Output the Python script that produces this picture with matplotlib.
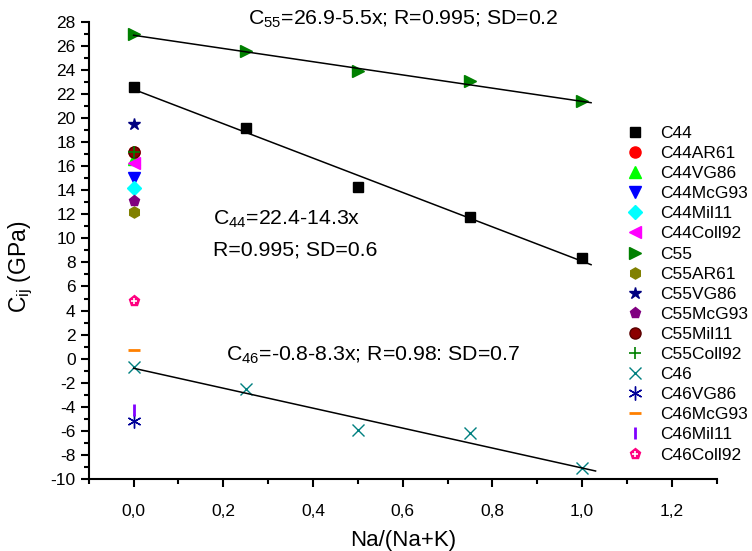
import numpy as np
import matplotlib
matplotlib.use("Agg")
import matplotlib.pyplot as plt
from matplotlib.ticker import MultipleLocator, FuncFormatter
from matplotlib.legend_handler import HandlerTuple

plt.rcParams["font.family"] = ["Liberation Sans", "DejaVu Sans"]
plt.rcParams["mathtext.default"] = "regular"

# composition series
x_series = [0.0, 0.25, 0.5, 0.75, 1.0]
c44 = [22.6, 19.2, 14.3, 11.8, 8.4]
c55 = [27.0, 25.6, 23.9, 23.1, 21.4]
c46 = [-0.7, -2.5, -5.9, -6.2, -9.1]

# literature values at x = 0
lit_names = [
    "C44AR61", "C44VG86", "C44McG93", "C44Mil11", "C44Coll92",
    "C55AR61", "C55VG86", "C55McG93", "C55Mil11", "C55Coll92",
    "C46VG86", "C46McG93", "C46Mil11", "C46Coll92",
]
lit_values = [
    17.2, 16.6, 15.0, 14.2, 16.3,
    12.2, 19.5, 13.1, 17.2, 17.2,
    -5.2, 0.7, -4.3, 4.8,
]

# linear fits: intercept, slope
fit_c55 = (26.9, -5.5)
fit_c44 = (22.4, -14.3)
fit_c46 = (-0.8, -8.3)

styles = {
    "C44": dict(marker="s", color="black", ms=7),
    "C44AR61": dict(marker="o", color="red", ms=8),
    "C44VG86": dict(marker="^", color="#00ff00", ms=8),
    "C44McG93": dict(marker="v", color="blue", ms=8),
    "C44Mil11": dict(marker="D", color="cyan", ms=7),
    "C44Coll92": dict(marker="<", color="magenta", ms=8),
    "C55": dict(marker=">", color="#008000", ms=8),
    "C55AR61": dict(marker="h", color="#808000", ms=8),
    "C55VG86": dict(marker="*", color="#000080", ms=9),
    "C55McG93": dict(marker="p", color="#800080", ms=8),
    "C55Mil11": dict(marker="o", color="#8b0000", ms=8, mec="#5a0000"),
    "C55Coll92": dict(marker="+", color="#008000", ms=9, mew=1.2),
    "C46": dict(marker="x", color="#008080", ms=9, mew=1.0),
    "C46VG86": dict(marker=(6, 2, 0), color="#000099", ms=10, mew=1.0),
    "C46McG93": dict(marker="_", color="#ff8000", ms=9, mew=2),
    "C46Mil11": dict(marker="|", color="#8000ff", ms=9, mew=2),
    "C46Coll92": dict(marker="p", color="#ff0080", ms=8),
}

fig = plt.figure(figsize=(7.52, 5.51), dpi=100)
ax = fig.add_axes([0.118, 0.131, 0.835, 0.829])

handles = {}
for name, vals in [("C44", c44), ("C55", c55), ("C46", c46)]:
    st = dict(styles[name])
    (h,) = ax.plot(x_series, vals, ls="none", **st)
    handles[name] = h

for name, val in zip(lit_names, lit_values):
    st = dict(styles[name])
    (h,) = ax.plot([0.0], [val], ls="none", **st, zorder=3)
    if name == "C46Coll92":
        (h2,) = ax.plot([0.0], [val], ls="none", marker="+", color="white",
                        ms=5, mew=1.2, zorder=4)
        h = (h, h2)
    handles[name] = h

# fit lines
xf = np.array([0.0, 1.02])
for b, a in (fit_c55, fit_c44):
    ax.plot(xf, b + a * xf, color="black", lw=1.1, zorder=2)
xf46 = np.array([0.0, 1.03])
ax.plot(xf46, fit_c46[0] + fit_c46[1] * xf46, color="black", lw=1.1, zorder=2)

eq_size = 15.3
ax.text(0.256, 28.2, r"C$_{55}$=26.9-5.5x; R=0.995; SD=0.2", fontsize=eq_size,
        va="center", ha="left", clip_on=False)
ax.text(0.178, 11.6, r"C$_{44}$=22.4-14.3x", fontsize=eq_size, va="center", ha="left")
ax.text(0.178, 9.0, "R=0.995; SD=0.6", fontsize=eq_size, va="center", ha="left")
ax.text(0.207, 0.3, r"C$_{46}$=-0.8-8.3x; R=0.98: SD=0.7", fontsize=eq_size,
        va="center", ha="left")

ax.set_xlim(-0.1, 1.3)
ax.set_ylim(-10, 28)
ax.xaxis.set_major_locator(MultipleLocator(0.2))
ax.xaxis.set_minor_locator(MultipleLocator(0.1))
ax.yaxis.set_major_locator(MultipleLocator(2))
ax.yaxis.set_minor_locator(MultipleLocator(1))
ax.xaxis.set_major_formatter(FuncFormatter(lambda v, p: f"{v:.1f}".replace(".", ",")))
ax.yaxis.set_major_formatter(FuncFormatter(lambda v, p: f"{v:.0f}"))

for s in ("top", "right"):
    ax.spines[s].set_visible(False)
for s in ("left", "bottom"):
    ax.spines[s].set_linewidth(1.5)
ax.tick_params(which="major", direction="out", length=6, width=1.5, labelsize=12.5)
ax.tick_params(which="minor", direction="out", length=3.5, width=1.5)
ax.tick_params(axis="x", pad=12)

ax.set_xlabel("Na/(Na+K)", fontsize=16, labelpad=8)
ax.set_ylabel(r"C$_{ij}$ (GPa)", fontsize=16.5)
ax.yaxis.set_label_coords(-0.085, 0.464)

order = ["C44"] + lit_names[:5] + ["C55"] + lit_names[5:10] + ["C46"] + lit_names[10:]
leg = ax.legend([handles[n] for n in order], order, loc="upper left",
                bbox_to_anchor=(0.81, 0.80), bbox_transform=fig.transFigure,
                frameon=False, fontsize=12.5, labelspacing=0.285,
                handlelength=1.2, handletextpad=0.84, numpoints=1,
                handler_map={tuple: HandlerTuple(ndivide=1)})

fig.savefig("out.png", dpi=100)
